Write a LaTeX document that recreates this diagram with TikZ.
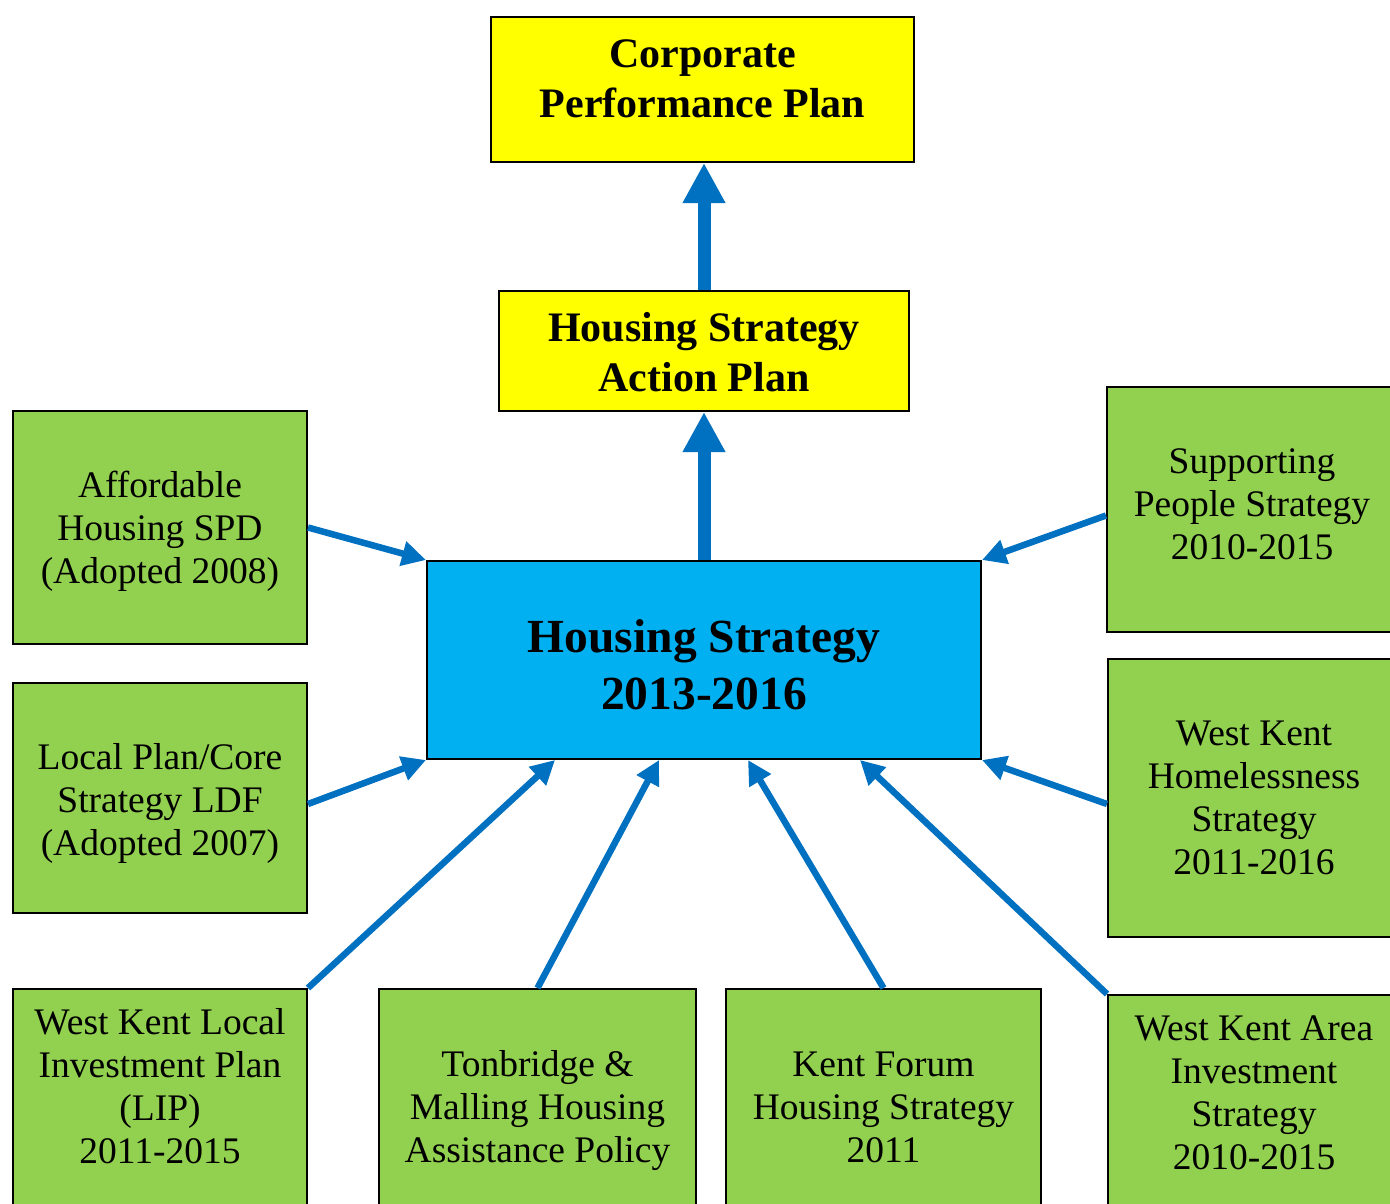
\documentclass[tikz,border=0pt]{standalone}
\usepackage{fontspec}
\setmainfont{Liberation Serif}
\usetikzlibrary{arrows.meta,calc}

\definecolor{planyellow}{HTML}{FFFF00}
\definecolor{hubcyan}{HTML}{00B0F0}
\definecolor{docgreen}{HTML}{92D050}
\definecolor{arrowblue}{HTML}{0070C0}

\begin{document}
\begin{tikzpicture}[x=1pt,y=-1pt,
	anybox/.style={
		% every box is hung from its top edge
		rectangle,
		draw=black, line width=2pt,
		anchor=north, inner sep=0pt,
		align=flush center
		},
	planbox/.style={
		% The yellow plans on top:
		anybox, fill=planyellow,
		font=\bfseries\fontsize{42}{50}\selectfont
		},
	hubbox/.style={
		% The strategy itself
		anybox, fill=hubcyan,
		font=\bfseries\fontsize{47.5}{57}\selectfont
		},
	docbox/.style={
		% The green documents that feed in
		anybox, fill=docgreen,
		font=\fontsize{37.5}{43}\selectfont
		},
	feed/.style={draw=arrowblue, line width=6.5pt, -{Triangle[length=24pt,width=24pt]}},
	lift/.style={draw=arrowblue, line width=13pt, -{Triangle[length=40pt,width=40pt]}}]

	\clip (0,0) rectangle (1390,1203);

	\node (corp) [planbox, text width=423pt, text height=50pt, text depth=95pt] at (702.5,16) {Corporate\\Performance Plan};
	\node (action) [planbox, text width=410pt, text height=50pt, text depth=70pt] at (704,290) {Housing Strategy\\Action Plan};
	\node (hs) [hubbox, text width=554pt, text height=91pt, text depth=107pt] at (704,560) {Housing Strategy\\2013-2016};

	\node (afford) [docbox, text width=294pt, text height=86pt, text depth=147pt] at (160,410) {Affordable\\Housing SPD\\(Adopted 2008)};
	\node (local) [docbox, text width=294pt, text height=86pt, text depth=144pt] at (160,682) {Local Plan/Core\\Strategy LDF\\(Adopted 2007)};
	\node (supp) [docbox, text width=290pt, text height=86pt, text depth=159pt] at (1252,386) {Supporting\\People Strategy\\2010-2015};
	\node (homeless) [docbox, text width=292pt, text height=86pt, text depth=192pt] at (1254,658) {West Kent\\Homelessness\\Strategy\\2011-2016};

	% the bottom row runs off the page
	\node (wklip) [docbox, text width=294pt, text height=45pt, text depth=300pt] at (160,988) {West Kent Local\\Investment Plan\\(LIP)\\2011-2015};
	\node (tmhap) [docbox, text width=317pt, text height=87pt, text depth=300pt] at (537.5,988) {Tonbridge \&\\Malling Housing\\Assistance Policy};
	\node (kfhs) [docbox, text width=315pt, text height=87pt, text depth=300pt] at (883.5,988) {Kent Forum\\Housing Strategy\\2011};
	\node (wkais) [docbox, text width=292pt, text height=45pt, text depth=300pt] at (1254,994) {West Kent Area\\Investment\\Strategy\\2010-2015};

	\draw[lift] (action.north) -- (action.north |- corp.south);
	\draw[lift] (hs.north -| action.south) -- (action.south);

	\draw[feed] (afford.east) -- (hs.north west);
	\draw[feed] ($(local.east)+(0,6)$) -- (hs.south west);
	\draw[feed] ($(supp.west)+(0,6)$) -- (hs.north east);
	\draw[feed] ($(homeless.west)+(0,6)$) -- (hs.south east);
	\draw[feed] (wklip.north east) -- ($(hs.south)+(-149,0)$);
	\draw[feed] (tmhap.north) -- ($(hs.south)+(-45,0)$);
	\draw[feed] (kfhs.north) -- ($(hs.south)+(44,0)$);
	\draw[feed] (wkais.north west) -- ($(hs.south)+(156,0)$);

\end{tikzpicture}
\end{document}
